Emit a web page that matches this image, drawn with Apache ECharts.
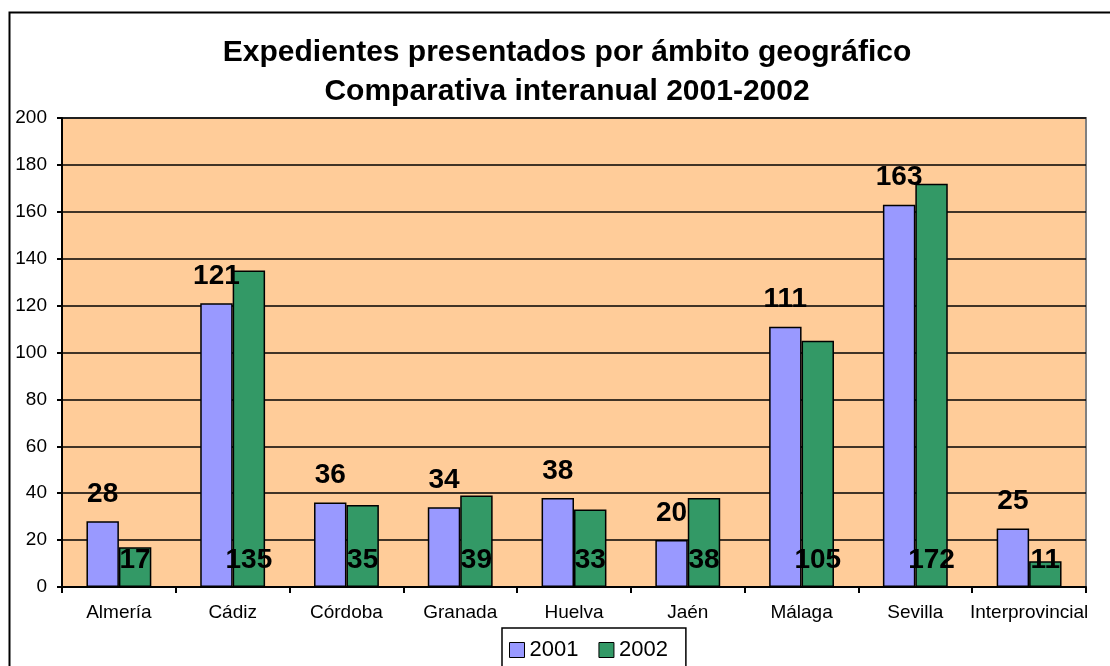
<!DOCTYPE html>
<html>
<head>
<meta charset="utf-8">
<script src="https://cdn.jsdelivr.net/npm/echarts@6/dist/echarts.min.js"></script>
<style>
html,body{margin:0;padding:0;background:#fff;}
#c{width:1110px;height:666px;}
</style>
</head>
<body>
<div id="c"></div>
<script>
const titleLines = ['Expedientes presentados por ámbito geográfico', 'Comparativa interanual 2001-2002'];
const categories = ['Almería', 'Cádiz', 'Córdoba', 'Granada', 'Huelva', 'Jaén', 'Málaga', 'Sevilla', 'Interprovincial'];
const seriesNames = ['2001', '2002'];
const values2001 = [28, 121, 36, 34, 38, 20, 111, 163, 25];
const values2002 = [17, 135, 35, 39, 33, 38, 105, 172, 11];
const yTicks = { min: 0, max: 200, interval: 20 };

const chart = echarts.init(document.getElementById('c'), null, { renderer: 'canvas' });
const FONT = 'Liberation Sans, Arial, sans-serif';
const labelStyle = { show: true, fontFamily: FONT, fontWeight: 'bold', fontSize: 28, color: '#000' };

chart.setOption({
  animation: false,
  backgroundColor: '#fff',
  graphic: [{
    type: 'rect', left: 7, top: 10, z: -1,
    shape: { width: 1120, height: 680 },
    style: { fill: 'none', stroke: '#000', lineWidth: 2 }
  }],
  title: {
    text: titleLines.join('\n'),
    left: 562, top: 28, textAlign: 'center',
    textStyle: { fontFamily: FONT, fontWeight: 'bold', fontSize: 30, lineHeight: 39, color: '#000' }
  },
  legend: {
    data: seriesNames,
    left: 502, top: 628,
    padding: [11, 18, 8, 7],
    itemWidth: 15, itemHeight: 15, itemGap: 20,
    borderColor: '#000', borderWidth: 1.5,
    backgroundColor: '#fff',
    icon: 'rect',
    textStyle: { fontFamily: FONT, fontSize: 22, color: '#000' },
    itemStyle: { borderColor: '#000', borderWidth: 1 }
  },
  grid: { left: 62, right: 24, top: 118, bottom: 79, containLabel: false,
          show: true, backgroundColor: '#FFCC99', borderColor: '#808080', borderWidth: 2 },
  xAxis: {
    type: 'category', data: categories,
    axisLine: { lineStyle: { color: '#000', width: 2 } },
    axisTick: { show: true, length: 6, lineStyle: { color: '#000', width: 2 } },
    axisLabel: { fontFamily: FONT, fontSize: 19, color: '#000', margin: 16, interval: 0 }
  },
  yAxis: {
    type: 'value', min: yTicks.min, max: yTicks.max, interval: yTicks.interval,
    axisLine: { show: true, lineStyle: { color: '#000', width: 2 } },
    axisTick: { show: true, length: 5, lineStyle: { color: '#000', width: 2 } },
    axisLabel: { fontFamily: FONT, fontSize: 19, color: '#000', margin: 15 },
    splitLine: { lineStyle: { color: '#000', width: 1.5 } }
  },
  series: [
    {
      name: seriesNames[0], type: 'bar', data: values2001,
      barGap: '0%', barCategoryGap: '43%',
      itemStyle: { color: '#9999FF', borderColor: '#000', borderWidth: 1.5 },
      label: Object.assign({}, labelStyle, { position: 'top', distance: 13 })
    },
    {
      name: seriesNames[1], type: 'bar', data: values2002,
      barGap: '0%', barCategoryGap: '43%',
      itemStyle: { color: '#339966', borderColor: '#000', borderWidth: 1.5 },
      label: Object.assign({}, labelStyle, { position: 'insideBottom', distance: 13 })
    }
  ]
});
</script>
</body>
</html>
